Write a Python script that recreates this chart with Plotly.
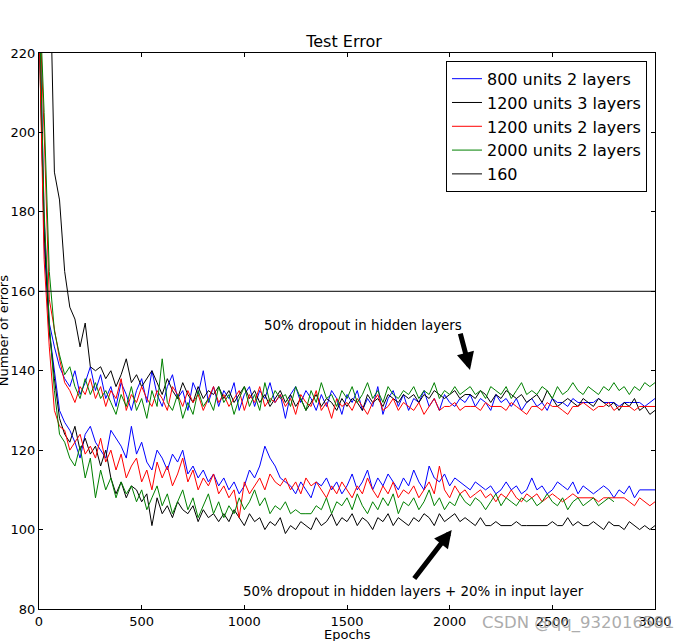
import plotly.graph_objects as go

FONT = "DejaVu Sans"

epochs = list(range(0, 3001, 25))
threshold_epochs = [0, 3000]
threshold = [160, 160]

# 50% dropout in hidden layers
blue_hidden = [
    240, 178, 152, 146, 141, 138, 136, 140, 134, 137, 141, 135,
    139, 133, 136, 131, 137, 134, 130, 135, 138, 132, 140, 134,
    131, 136, 139, 133, 135, 130, 137, 134, 140, 132, 136, 131,
    135, 133, 137, 130, 134, 136, 131, 135, 133, 137, 132, 134,
    128, 134, 136, 132, 135, 133, 130, 134, 131, 135, 133, 129,
    134, 132, 135, 130, 133, 131, 136, 129, 133, 135, 131, 134,
    130, 133, 132, 135, 131, 133, 130, 134, 132, 131, 133, 132,
    134, 131, 133, 132, 130, 134, 132, 133, 131, 133, 130, 132,
    133, 131, 132, 130, 133, 132, 132, 131, 133, 132, 132, 132,
    132, 133, 132, 132, 132, 131, 132, 132, 132, 132, 131, 132, 133,
]
black_hidden = [
    300, 280, 250, 190, 183, 165, 156, 153, 146, 152, 141, 140,
    141, 138, 140, 136, 139, 143, 137, 139, 136, 138, 140, 137,
    134, 138, 135, 133, 137, 134, 132, 136, 133, 135, 134, 136,
    133, 135, 132, 134, 136, 133, 135, 132, 134, 131, 133, 135,
    132, 134, 131, 133, 130, 132, 134, 131, 133, 132, 130, 133,
    131, 133, 132, 130, 134, 132, 133, 131, 134, 133, 132, 134,
    133, 134, 132, 134, 133, 135, 134, 133, 134, 135, 133, 134,
    134, 133, 135, 134, 132, 134, 133, 135, 134, 133, 134, 132,
    133, 134, 132, 135, 133, 131, 132, 133, 132, 131, 133, 132,
    131, 133, 132, 131, 132, 130, 132, 131, 133, 130, 131, 129, 130,
]
red_hidden = [
    235, 200, 158, 150, 143, 137, 135, 132, 136, 134, 138, 133,
    136, 131, 135, 133, 138, 130, 134, 132, 136, 133, 131, 135,
    133, 130, 136, 134, 131, 135, 132, 134, 130, 133, 136, 132,
    134, 131, 133, 135, 130, 134, 132, 136, 131, 133, 132, 134,
    131, 133, 129, 134, 132, 131, 135, 130, 132, 128, 133, 131,
    132, 130, 133, 131, 129, 132, 134, 130, 131, 133, 130, 132,
    131, 130, 132, 129, 131, 133, 130, 131, 131, 132, 130, 131,
    131, 131, 130, 132, 131, 131, 131, 130, 132, 131, 130, 129,
    131, 131, 130, 132, 131, 131, 130, 129, 131, 131, 132, 131,
    130, 131, 131, 132, 130, 131, 131, 131, 130, 131, 131, 131, 131,
]
green_hidden = [
    238, 205, 165, 150, 144, 139, 141, 136, 133, 138, 134, 137,
    133, 135, 132, 129, 134, 131, 136, 130, 133, 128, 135, 131,
    143, 132, 130, 134, 128, 132, 129, 135, 131, 133, 130, 136,
    132, 134, 129, 133, 136, 131, 134, 130, 137, 132, 135, 133,
    134, 131, 136, 133, 130, 135, 132, 137, 133, 134, 131, 135,
    133, 136, 132, 134, 137, 133, 135, 132, 136, 134, 133, 135,
    134, 136, 133, 135, 134, 137, 133, 135, 134, 136, 134, 135,
    136, 134, 135, 133, 136, 135, 134, 136, 133, 135, 137, 134,
    135, 134, 136, 135, 133, 136, 134, 135, 137, 135, 134, 136,
    135, 134, 136, 135, 137, 135, 136, 134, 136, 135, 137, 136, 137,
]

# 50% dropout in hidden layers + 20% in input layer
blue_input = [
    232, 172, 150, 140, 130, 127, 125, 122, 118, 124, 126, 122,
    120, 118, 125, 123, 121, 118, 126, 119, 122, 117, 115, 120,
    118, 115, 119, 117, 120, 114, 116, 113, 115, 112, 114, 111,
    113, 110, 112, 109, 111, 115, 113, 116, 121, 118, 116, 113,
    112, 111, 109, 112, 110, 108, 112, 111, 113, 110, 112, 109,
    111, 114, 110, 112, 115, 110, 113, 111, 114, 112, 110, 113,
    111, 115, 112, 110, 116, 113, 112, 114, 111, 113, 112, 111,
    110, 112, 111, 110, 111, 109, 110, 112, 110, 111, 109, 110,
    113, 110, 111, 109, 110, 112, 111, 110, 112, 109, 111, 110,
    109, 110, 111, 110, 108, 110, 109, 111, 108, 110, 110, 110, 110,
]
black_input = [
    226, 175, 150, 138, 128, 124, 122, 126, 120, 123, 119, 121,
    116, 120, 113, 109, 112, 108, 111, 110, 107, 109, 101, 108,
    104, 106, 103, 107, 105, 104, 106, 102, 105, 103, 104, 102,
    104, 102, 105, 103, 101, 104, 102, 103, 100, 102, 101, 103,
    99, 101, 100, 102, 101, 100, 103, 101, 102, 104, 101, 103,
    102, 104, 101, 103, 102, 100, 103, 102, 104, 101, 103, 102,
    101, 103, 102, 104, 103, 101, 104, 102, 103, 104, 102, 103,
    102, 101, 103, 101, 101, 102, 101, 101, 101, 102, 101, 101,
    101, 101, 101, 101, 102, 101, 101, 103, 101, 102, 101, 101,
    102, 101, 100, 102, 101, 101, 100, 102, 101, 100, 101, 100, 101,
]
red_input = [
    228, 168, 146, 130, 126, 125, 120, 122, 124, 119, 121, 118,
    123, 117, 120, 115, 119, 113, 116, 118, 112, 115, 110, 117,
    113, 116, 111, 114, 118, 112, 115, 110, 113, 111, 114, 109,
    111, 108, 110, 103, 112, 109, 111, 113, 110, 114, 112, 111,
    113, 110, 112, 109, 113, 111, 112, 110, 108, 111, 109, 112,
    110, 108, 111, 109, 113, 110, 108, 111, 109, 112, 108, 110,
    109, 111, 108, 110, 112, 109, 116, 110, 108, 111, 109, 110,
    108, 109, 110, 108, 109, 107, 109, 108, 110, 108, 107, 109,
    108, 109, 107, 108, 109, 108, 107, 108, 109, 108, 108, 108,
    108, 107, 108, 108, 108, 108, 108, 107, 106, 108, 107, 106, 107,
]
green_input = [
    236, 180, 152, 135, 124, 122, 118, 116, 121, 113, 118, 108,
    115, 110, 113, 108, 112, 109, 111, 107, 110, 105, 108, 111,
    106, 109, 104, 107, 110, 105, 108, 103, 106, 109, 104, 107,
    103, 106, 104, 108, 105, 107, 110, 106, 108, 104, 106, 105,
    107, 104, 105, 104, 104, 104, 106, 105, 108, 104, 107, 106,
    108, 105, 109, 106, 104, 107, 105, 108, 106, 109, 104, 107,
    106, 108, 105, 107, 110, 106, 108, 105, 107, 106, 109, 107,
    106, 108, 107, 105, 107, 109, 106, 108, 107, 106, 108, 107,
    108, 106, 107, 109, 107, 106, 108, 105, 107, 108, 106, 107,
    108, 106, 107, 108, 107,
]

series = [
    ("800 units 2 layers", "#0000ff", blue_hidden, blue_input),
    ("1200 units 3 layers", "#000000", black_hidden, black_input),
    ("1200 units 2 layers", "#ff0000", red_hidden, red_input),
    ("2000 units 2 layers", "#008000", green_hidden, green_input),
]

fig = go.Figure()

for name, color, hidden, inp in series:
    fig.add_trace(go.Scatter(
        x=epochs[:len(hidden)], y=hidden, mode="lines", name=name,
        legendgroup=name, line=dict(color=color, width=1),
    ))
    fig.add_trace(go.Scatter(
        x=epochs[:len(inp)], y=inp, mode="lines", name=name,
        legendgroup=name, showlegend=False, line=dict(color=color, width=1),
    ))

fig.add_trace(go.Scatter(
    x=threshold_epochs, y=threshold, mode="lines", name="160",
    line=dict(color="black", width=1),
))

axis_style = dict(
    showline=True, linecolor="black", linewidth=1, mirror="ticks",
    ticks="inside", ticklen=4, tickcolor="black", showgrid=False,
    zeroline=False, tickfont=dict(family=FONT, size=13, color="black"),
)
fig.update_xaxes(range=[0, 3000], tickvals=[0, 500, 1000, 1500, 2000, 2500, 3000],
                 **axis_style)
fig.update_yaxes(range=[80, 220], tickvals=list(range(80, 221, 20)), **axis_style)

# annotations with arrows
fig.add_annotation(x=1578, y=151.5, text="50% dropout in hidden layers",
                   showarrow=False, font=dict(family=FONT, size=13.4, color="black"))
fig.add_annotation(x=2099, y=140.2, ax=2050, ay=149.7, axref="x", ayref="y",
                   text="", showarrow=True, arrowhead=2, arrowsize=0.7,
                   arrowwidth=5, arrowcolor="black")
fig.add_annotation(x=1822, y=84.4, text="50% dropout in hidden layers + 20% in input layer",
                   showarrow=False, font=dict(family=FONT, size=13.4, color="black"))
fig.add_annotation(x=2010, y=99.9, ax=1822, ay=87.3, axref="x", ayref="y",
                   text="", showarrow=True, arrowhead=2, arrowsize=0.7,
                   arrowwidth=5, arrowcolor="black")

# axis titles placed by hand, like the original
fig.add_annotation(xref="paper", yref="paper", x=-0.058, y=0.5, text="Number of errors",
                   textangle=-90, showarrow=False, xanchor="center", yanchor="middle",
                   font=dict(family=FONT, size=13, color="black"))
fig.add_annotation(xref="paper", yref="paper", x=0.5, y=-0.045, text="Epochs",
                   showarrow=False, yanchor="middle",
                   font=dict(family=FONT, size=13, color="black"))
fig.add_annotation(xref="paper", yref="paper", x=1.034, y=-0.025, text="CSDN @qq_932016581",
                   showarrow=False, xanchor="right", yanchor="middle",
                   font=dict(family=FONT, size=16.5, color="rgba(150,150,150,0.8)"))

fig.update_layout(
    width=688, height=641,
    margin=dict(l=39, r=33, t=53, b=32),
    paper_bgcolor="white", plot_bgcolor="white",
    title=dict(text="Test Error", x=0.5, xanchor="center", y=0.935, yanchor="middle",
               font=dict(family=FONT, size=16, color="black")),
    legend=dict(x=0.987, y=0.986, xanchor="right", yanchor="top",
                bordercolor="black", borderwidth=1, bgcolor="white",
                font=dict(family=FONT, size=16, color="black"),
                tracegroupgap=0, itemwidth=30),
    showlegend=True,
)

# drop the page's default body margin so the figure sits at the window corner
fig.write_html("out.html", config={"displayModeBar": False},
               post_script="document.body.style.margin='0';")
